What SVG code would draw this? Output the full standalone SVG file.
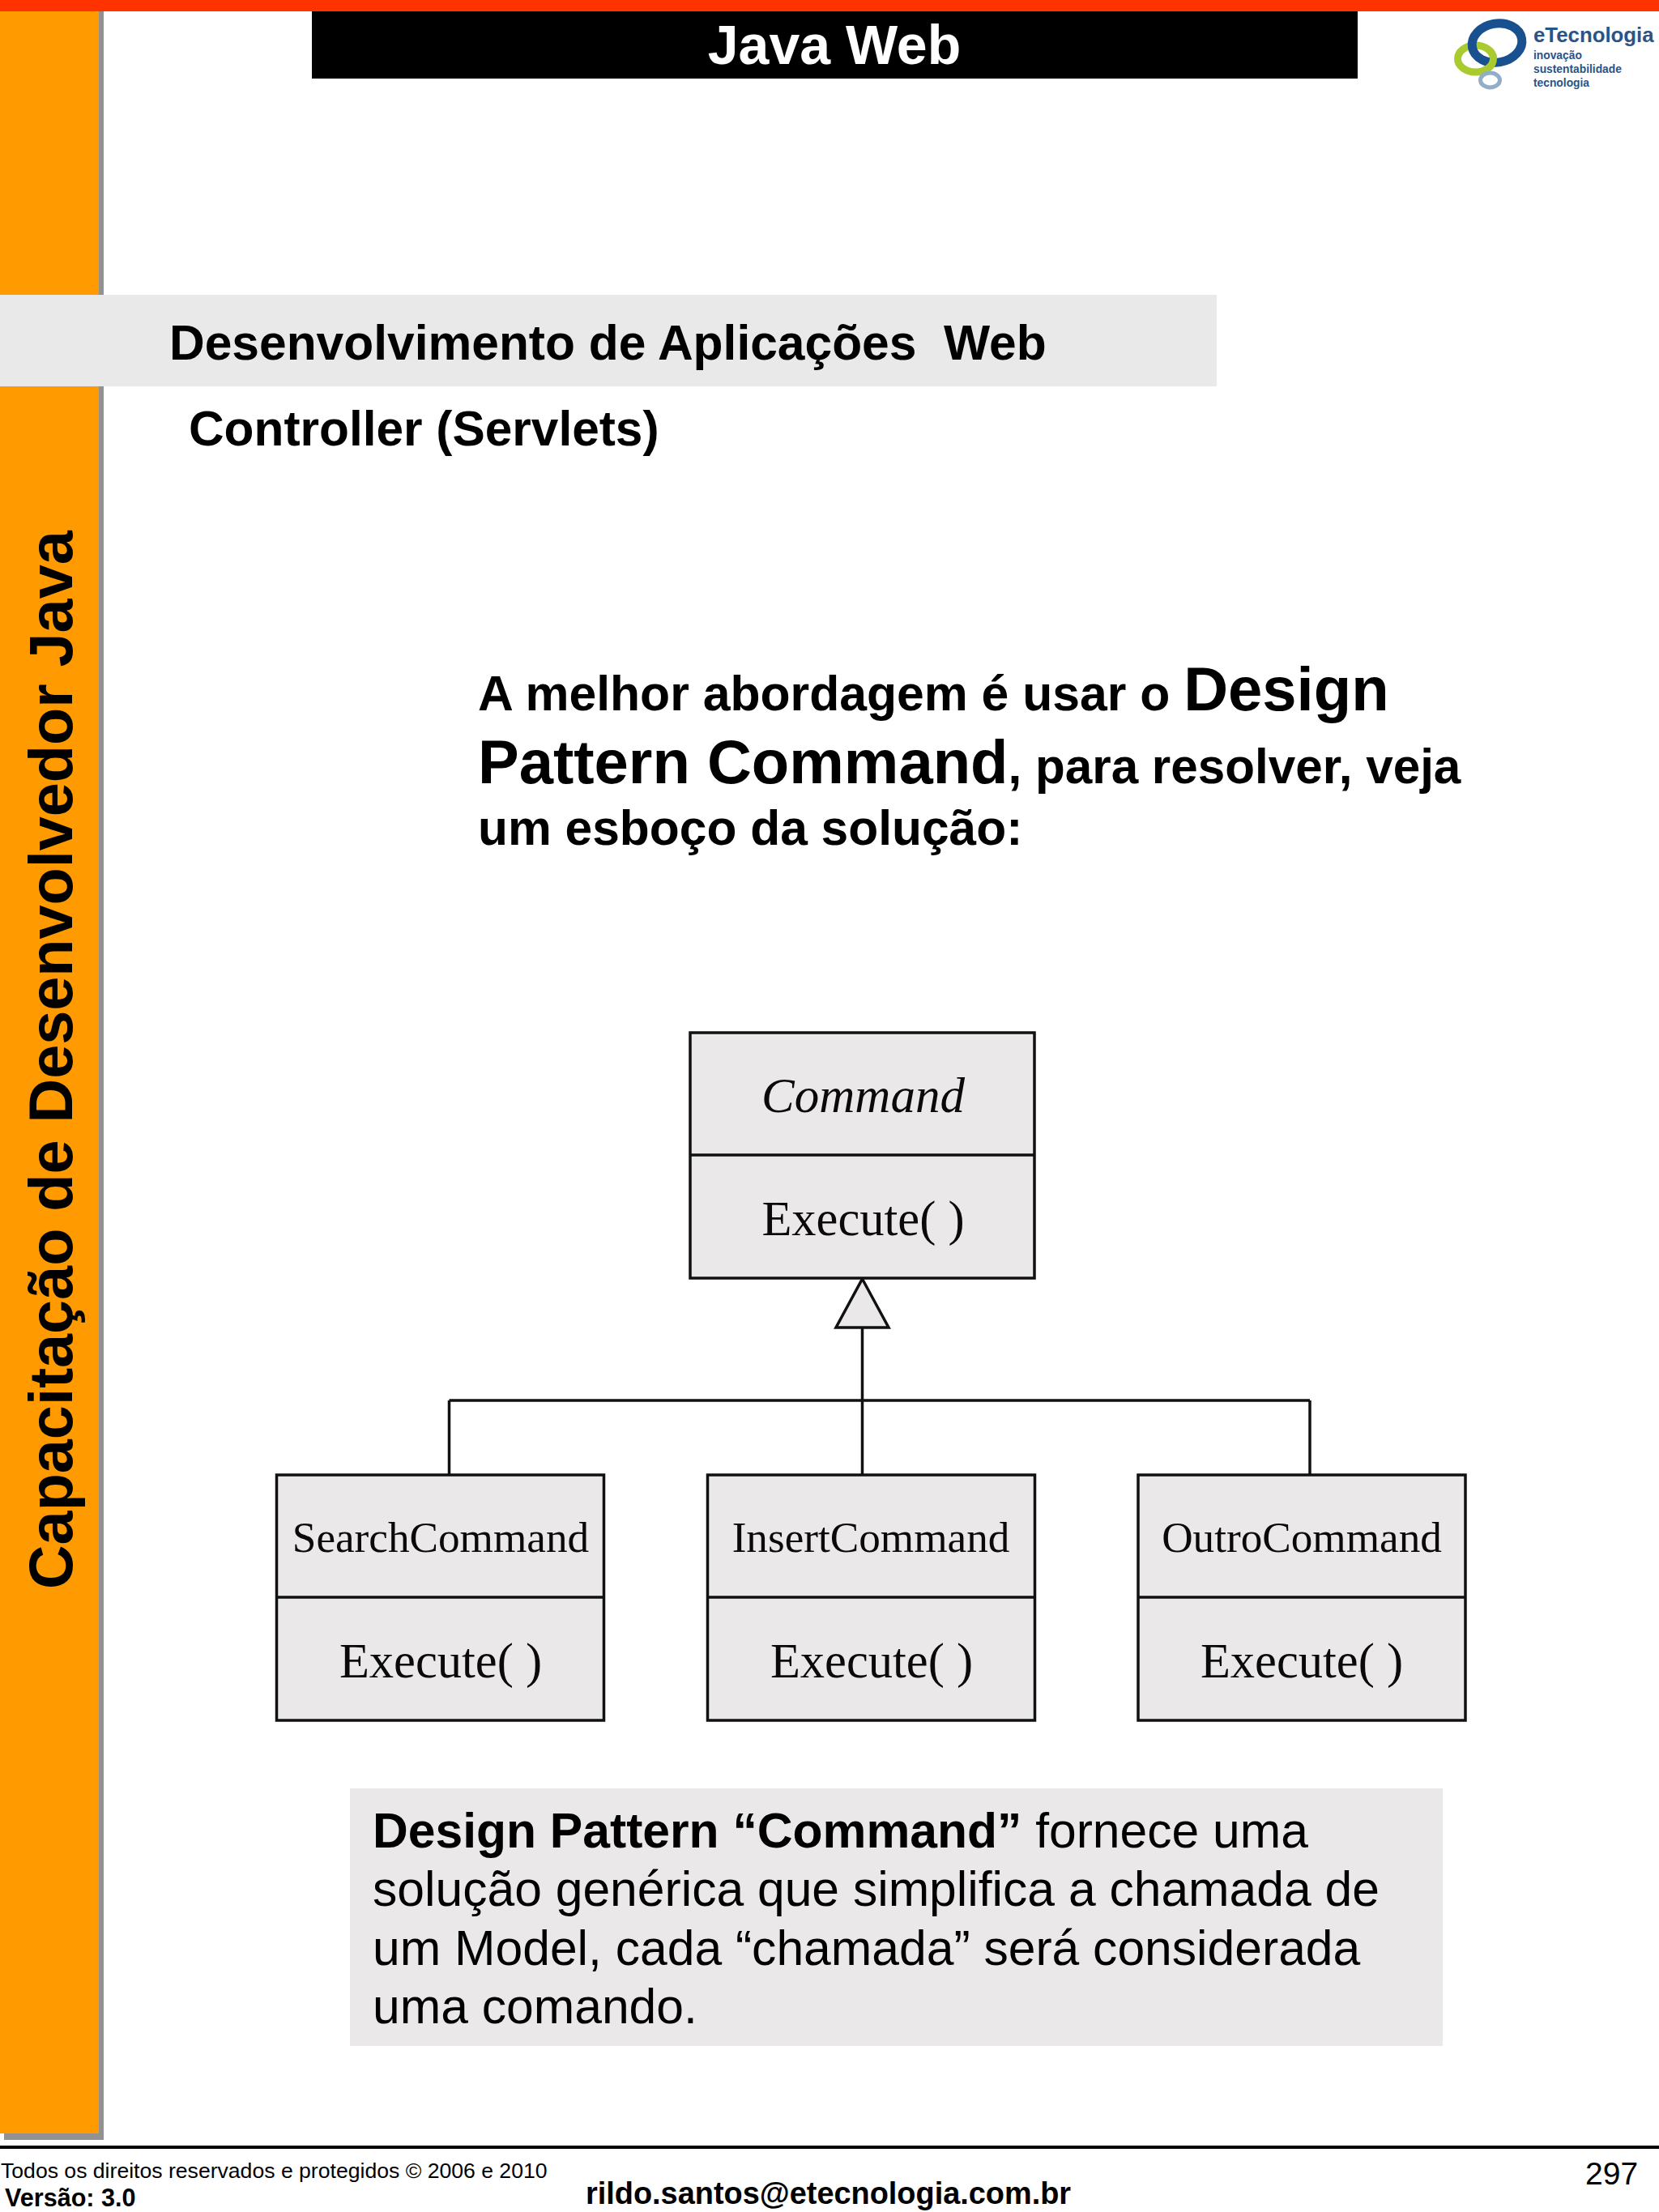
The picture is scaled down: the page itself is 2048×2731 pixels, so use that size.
<svg xmlns="http://www.w3.org/2000/svg" width="2048" height="2731" viewBox="0 0 2048 2731">
<style>
.s{font-family:"Liberation Sans",Arial,sans-serif}
.b{font-weight:bold}
.t{font-family:"Liberation Serif","Times New Roman",serif;text-anchor:middle;fill:#0a0a0a}
.box{fill:#eae8e9;stroke:#111;stroke-width:3.5}
.ln{fill:none;stroke:#111;stroke-width:3.5}
.logo{font-family:"Liberation Sans",Arial,sans-serif;font-weight:bold;fill:#2a5488}
</style>
<rect width="2048" height="2731" fill="#fff"/>
<g id="frame">
<rect x="5" y="14" width="123" height="2628" fill="#929292"/>
<rect x="0" y="14" width="122" height="2620" fill="#ff9a00"/>
<rect x="0" y="0" width="2048" height="14" fill="#ff3300"/>
<rect x="385" y="14" width="1291" height="83" fill="#000"/>
<rect x="0" y="364" width="1502" height="113" fill="#e9e9ea"/>
<rect x="0" y="2649" width="2048" height="4" fill="#000"/>
</g>
<g id="logo">
<ellipse cx="1821.5" cy="72.5" rx="22" ry="16.5" fill="none" stroke="#a9cb2f" stroke-width="9"/>
<ellipse cx="1848" cy="53" rx="31" ry="24" fill="none" stroke="#19508f" stroke-width="11" transform="rotate(-10 1848 53)"/>
<path d="M1838.4 61.9A22 16.5 0 0 1 1832.5 86.8" fill="none" stroke="#a9cb2f" stroke-width="9"/>
<ellipse cx="1839.5" cy="99" rx="12" ry="9" fill="none" stroke="#92adc9" stroke-width="5"/>
<text class="logo" x="1893" y="52" font-size="25.8">eTecnologia</text>
<text class="logo" x="1893" y="73" font-size="13.8">inovação</text>
<text class="logo" x="1893" y="90" font-size="13.8">sustentabilidade</text>
<text class="logo" x="1893" y="107" font-size="13.8">tecnologia</text>
</g>
<g id="titles">
<text class="s b" x="1030" y="79" font-size="68" text-anchor="middle" fill="#fff">Java Web</text>
<text class="s b" x="209" y="444" font-size="60.5" xml:space="preserve">Desenvolvimento de Aplicações  Web</text>
<text class="s b" x="233" y="550" font-size="60.4">Controller (Servlets)</text>
<text class="s b" transform="translate(89 1962) rotate(-90)" font-size="75.6">Capacitação de Desenvolvedor Java</text>
</g>
<g id="intro">
<text class="s b" x="590" y="877" font-size="60.7">A melhor abordagem é usar o <tspan font-size="76">Design</tspan></text>
<text class="s b" x="590" y="967" font-size="60.2"><tspan font-size="76">Pattern Command</tspan>, para resolver, veja</text>
<text class="s b" x="590" y="1043" font-size="60.5">um esboço da solução:</text>
</g>
<g id="connectors">
<path class="ln" d="M1064.5 1639V1820M554.5 1729H1617M554.5 1729V1820M1617 1729V1820"/>
<path class="box" d="M1064.5 1579L1097 1639H1032Z"/>
</g>
<g id="node-command">
<rect class="box" x="852" y="1275" width="425" height="303"/>
<path class="ln" d="M852 1426H1277"/>
<text class="t" x="1065.5" y="1373" font-size="61" font-style="italic">Command</text>
<text class="t" x="1065.5" y="1525" font-size="60.5">Execute( )</text>
</g>
<g id="node-search">
<rect class="box" x="341.5" y="1821" width="404" height="303"/>
<path class="ln" d="M341.5 1972H745.5"/>
<text class="t" x="544" y="1916" font-size="53.2">SearchCommand</text>
<text class="t" x="544" y="2071" font-size="60.5">Execute( )</text>
</g>
<g id="node-insert">
<rect class="box" x="873.5" y="1821" width="404" height="303"/>
<path class="ln" d="M873.5 1972H1277.5"/>
<text class="t" x="1075" y="1916" font-size="53.2">InsertCommand</text>
<text class="t" x="1076" y="2071" font-size="60.5">Execute( )</text>
</g>
<g id="node-outro">
<rect class="box" x="1405" y="1821" width="404" height="303"/>
<path class="ln" d="M1405 1972H1809"/>
<text class="t" x="1607" y="1916" font-size="53.2">OutroCommand</text>
<text class="t" x="1607" y="2071" font-size="60.5">Execute( )</text>
</g>
<g id="note">
<rect x="432" y="2208" width="1349" height="318" fill="#eae8e9"/>
<text class="s" x="460" y="2281" font-size="60.6"><tspan class="b">Design Pattern “Command”</tspan> fornece uma</text>
<text class="s" x="460" y="2353" font-size="60.6">solução genérica que simplifica a chamada de</text>
<text class="s" x="460" y="2426" font-size="60.6">um Model, cada “chamada” será considerada</text>
<text class="s" x="460" y="2498" font-size="60.6">uma comando.</text>
</g>
<g id="footer">
<text class="s" x="1" y="2689" font-size="26.6">Todos os direitos reservados e protegidos © 2006 e 2010</text>
<text class="s b" x="6" y="2724" font-size="30.6">Versão: 3.0</text>
<text class="s b" x="723" y="2721" font-size="37.9">rildo.santos@etecnologia.com.br</text>
<text class="s" x="1957" y="2697" font-size="39">297</text>
</g>
</svg>
